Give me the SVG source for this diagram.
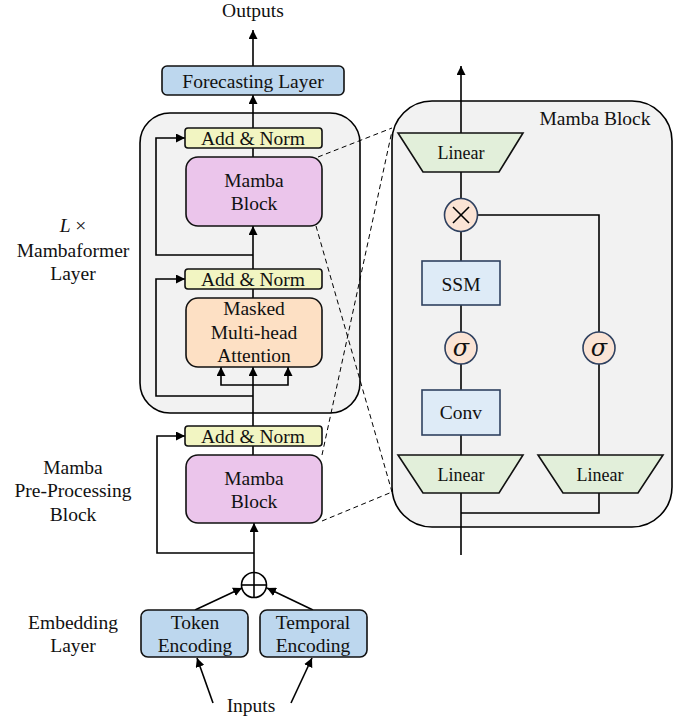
<svg xmlns="http://www.w3.org/2000/svg" width="683" height="717" viewBox="0 0 683 717">
<defs>
<marker id="ah" viewBox="0 0 10 10" refX="10" refY="5" markerWidth="9" markerHeight="9" markerUnits="userSpaceOnUse" orient="auto">
<path d="M0,0 L10,5 L0,10 z" fill="#000"/>
</marker>
</defs>
<style>
text{font-family:"Liberation Serif","Times New Roman",serif;font-size:19.5px;fill:#111;text-anchor:middle}
.sm{font-size:18px}
.sig{font-family:"DejaVu Serif","Liberation Serif",serif;font-style:italic;font-size:24px}
.ln{fill:none;stroke:#000;stroke-width:1.6}
.ar{fill:none;stroke:#000;stroke-width:1.6;marker-end:url(#ah)}
.ds{fill:none;stroke:#000;stroke-width:1;stroke-dasharray:5,3.5}
.panel{fill:#f2f2f2;stroke:#000;stroke-width:1.6}
.blue{fill:#bdd7ee;stroke:#111;stroke-width:1.6}
.an{fill:#f2f5c2;stroke:#111;stroke-width:1.6}
.mb{fill:#ebc5eb;stroke:#111;stroke-width:1.6}
.att{fill:#fde0c4;stroke:#111;stroke-width:1.6}
.lb{fill:#deebf7;stroke:#2f4160;stroke-width:1.6}
.lin{fill:#e2efda;stroke:#111;stroke-width:1.6}
.cir{fill:#fbe4d5;stroke:#2f4160;stroke-width:1.6}
</style>
<rect width="683" height="717" fill="#fff"/>

<g id="panels">
<rect id="mambaformer-layer" class="panel" x="140" y="113" width="220" height="300" rx="30"/>
<rect id="mamba-block-detail" class="panel" x="392" y="101" width="280" height="426" rx="40"/>
</g>

<g id="labels">
<text x="253" y="17">Outputs</text>
<text x="251" y="712">Inputs</text>
<text x="73" y="232"><tspan font-style="italic">L</tspan> ×</text>
<text x="73" y="257">Mambaformer</text>
<text x="73" y="280">Layer</text>
<text x="73" y="474">Mamba</text>
<text x="73" y="497">Pre-Processing</text>
<text x="73" y="521">Block</text>
<text x="73" y="629">Embedding</text>
<text x="73" y="652">Layer</text>
<text x="595" y="125">Mamba Block</text>
</g>

<g id="connectors">
<line class="ar" x1="253" y1="66" x2="253" y2="30"/>
<line class="ar" x1="253" y1="128" x2="253" y2="95"/>
<line class="ln" x1="253" y1="148" x2="253" y2="157"/>
<line class="ar" x1="253" y1="269" x2="253" y2="226"/>
<polyline class="ar" points="253,255 156,255 156,138 185,138"/>
<line class="ln" x1="253" y1="289" x2="253" y2="298"/>
<line class="ar" x1="253" y1="426" x2="253" y2="367"/>
<polyline class="ar" points="253,385 221,385 221,367"/>
<polyline class="ar" points="253,385 288,385 288,367"/>
<polyline class="ar" points="253,396 156,396 156,279 185,279"/>
<line class="ln" x1="253" y1="446" x2="253" y2="455"/>
<line class="ar" x1="254" y1="572" x2="254" y2="523"/>
<polyline class="ar" points="254,553 157,553 157,436 185,436"/>
<line class="ar" x1="195" y1="610" x2="242" y2="588"/>
<line class="ar" x1="313" y1="610" x2="267" y2="588"/>
<line class="ar" x1="213" y1="703" x2="197" y2="658"/>
<line class="ar" x1="291" y1="703" x2="312" y2="658"/>
<line class="ds" x1="318" y1="157" x2="392" y2="128"/>
<line class="ds" x1="316" y1="226" x2="392" y2="492"/>
<line class="ds" x1="322" y1="455" x2="392" y2="131"/>
<line class="ds" x1="322" y1="521" x2="392" y2="492"/>
<line class="ar" x1="461" y1="133" x2="461" y2="66"/>
<line class="ln" x1="461" y1="172" x2="461" y2="198"/>
<line class="ln" x1="461" y1="232" x2="461" y2="261"/>
<polyline class="ln" points="477,215 599,215 599,332"/>
<line class="ln" x1="461" y1="305" x2="461" y2="332"/>
<line class="ln" x1="461" y1="364" x2="461" y2="390"/>
<line class="ln" x1="461" y1="435" x2="461" y2="455"/>
<line class="ln" x1="599" y1="364" x2="599" y2="455"/>
<line class="ln" x1="461" y1="493" x2="461" y2="555"/>
<polyline class="ln" points="461,513 599,513 599,493"/>
</g>

<g id="forecasting-layer">
<rect class="blue" x="162" y="66" width="182" height="29" rx="5"/>
<text x="253" y="88">Forecasting Layer</text>
</g>
<g id="add-norm-1">
<rect class="an" x="185" y="128" width="137" height="20" rx="3"/>
<text x="253" y="145">Add &amp; Norm</text>
</g>
<g id="mamba-block-1">
<rect class="mb" x="186" y="157" width="136" height="69" rx="12"/>
<text x="254" y="187">Mamba</text>
<text x="254" y="210">Block</text>
</g>
<g id="add-norm-2">
<rect class="an" x="185" y="269" width="137" height="20" rx="3"/>
<text x="253" y="286">Add &amp; Norm</text>
</g>
<g id="masked-attention">
<rect class="att" x="186" y="298" width="136" height="69" rx="12"/>
<text x="254" y="315">Masked</text>
<text x="254" y="339">Multi-head</text>
<text x="254" y="362">Attention</text>
</g>
<g id="add-norm-3">
<rect class="an" x="185" y="426" width="137" height="20" rx="3"/>
<text x="253" y="443">Add &amp; Norm</text>
</g>
<g id="mamba-block-2">
<rect class="mb" x="186" y="455" width="136" height="68" rx="12"/>
<text x="254" y="485">Mamba</text>
<text x="254" y="508">Block</text>
</g>
<g id="add-circle">
<circle cx="254" cy="585" r="12.5" fill="#fff" stroke="#000" stroke-width="1.6"/>
<line class="ln" x1="241.5" y1="585" x2="266.5" y2="585"/>
<line class="ln" x1="254" y1="572.5" x2="254" y2="597.5"/>
</g>
<g id="token-encoding">
<rect class="blue" x="141" y="610" width="107" height="47" rx="7"/>
<text x="195" y="629">Token</text>
<text x="195" y="652">Encoding</text>
</g>
<g id="temporal-encoding">
<rect class="blue" x="260" y="610" width="107" height="47" rx="7"/>
<text x="313" y="629">Temporal</text>
<text x="313" y="652">Encoding</text>
</g>

<g id="linear-top">
<polygon class="lin" points="398,133 523,133 499,172 423,172"/>
<text class="sm" x="461" y="159">Linear</text>
</g>
<g id="multiply">
<circle class="cir" cx="461" cy="215" r="16.5"/>
<line class="ln" x1="453" y1="207" x2="469" y2="223" stroke-width="2"/>
<line class="ln" x1="469" y1="207" x2="453" y2="223" stroke-width="2"/>
</g>
<g id="ssm">
<rect class="lb" x="422" y="261" width="78" height="44"/>
<text x="461" y="291">SSM</text>
</g>
<g id="sigma-left">
<circle class="cir" cx="461" cy="348" r="16"/>
<text class="sig" x="461" y="356">σ</text>
</g>
<g id="sigma-right">
<circle class="cir" cx="599" cy="348" r="16"/>
<text class="sig" x="599" y="356">σ</text>
</g>
<g id="conv">
<rect class="lb" x="422" y="390" width="78" height="45"/>
<text x="461" y="419">Conv</text>
</g>
<g id="linear-left">
<polygon class="lin" points="398,455 523,455 499,493 423,493"/>
<text class="sm" x="461" y="481">Linear</text>
</g>
<g id="linear-right">
<polygon class="lin" points="538,455 663,455 638,493 563,493"/>
<text class="sm" x="600" y="481">Linear</text>
</g>
</svg>
